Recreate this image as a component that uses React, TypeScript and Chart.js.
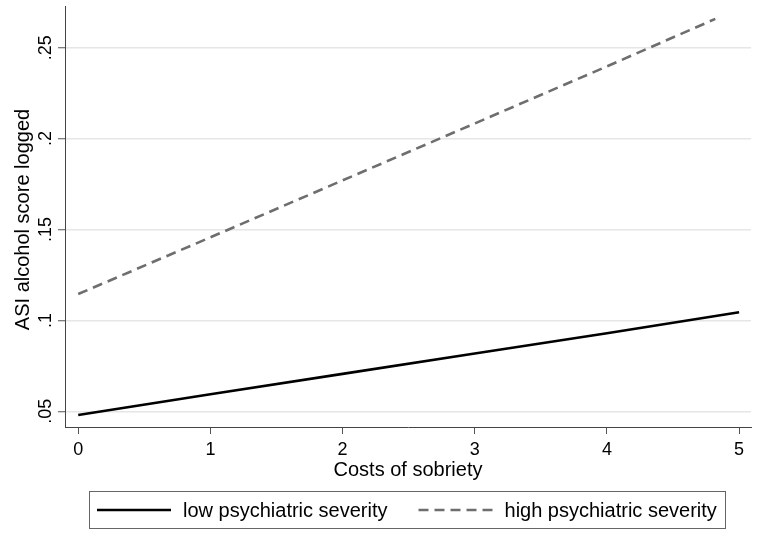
import React, { useEffect, useRef } from "react";
import { Chart, registerables } from "chart.js";

Chart.register(...registerables);

const X_TICKS = [0, 1, 2, 3, 4, 5];
const Y_TICKS = [0.05, 0.1, 0.15, 0.2, 0.25];
const LOW_X = [0, 1, 2, 3, 4, 5];
const LOW_Y = [0.048, 0.0594, 0.0706, 0.0818, 0.093, 0.1045];
const HIGH_X = [0, 1, 2, 3, 4, 4.82];
const HIGH_Y = [0.1145, 0.1457, 0.177, 0.2083, 0.2397, 0.2658];
const SERIES_LABELS = ["low psychiatric severity", "high psychiatric severity"];
const X_TITLE = "Costs of sobriety";
const Y_TITLE = "ASI alcohol score logged";

const FONT = "'Liberation Sans', Arial, Helvetica, sans-serif";

const fmtY = (v: number) => {
  const s = String(+v.toFixed(3));
  return s.startsWith("0.") ? s.slice(1) : s;
};

const textPlugin = {
  id: "stataText",
  afterDraw(chart: any) {
    const ctx = chart.ctx as CanvasRenderingContext2D;
    const { left, right, top, bottom } = chart.chartArea;
    const xs = chart.scales.x;
    const ys = chart.scales.y;
    ctx.save();
    ctx.fillStyle = "#000";

    // x tick labels
    ctx.font = `18px ${FONT}`;
    ctx.textAlign = "center";
    ctx.textBaseline = "alphabetic";
    xs.ticks.forEach((t: any) => {
      ctx.fillText(String(t.value), xs.getPixelForValue(t.value), bottom + 27.5);
    });

    // y tick labels (rotated)
    ys.ticks.forEach((t: any) => {
      ctx.save();
      ctx.translate(left - 14.5, ys.getPixelForValue(t.value));
      ctx.rotate(-Math.PI / 2);
      ctx.fillText(fmtY(t.value), 0, 0);
      ctx.restore();
    });

    // axis titles
    ctx.font = `20px ${FONT}`;
    ctx.fillText(X_TITLE, (left + right) / 2, bottom + 49);
    ctx.save();
    ctx.translate(left - 36, (top + bottom) / 2 + 3);
    ctx.rotate(-Math.PI / 2);
    ctx.fillText(Y_TITLE, 0, 0);
    ctx.restore();

    // legend box
    const bx = left + 24;
    const bw = right - 26 - bx;
    const by = bottom + 64;
    const bh = 37;
    ctx.strokeStyle = "#666";
    ctx.lineWidth = 1;
    ctx.strokeRect(bx + 0.5, by + 0.5, bw, bh);
    const cy = by + bh / 2 + 0.5;
    let x = bx + 8;
    ctx.textAlign = "left";
    ctx.textBaseline = "middle";
    chart.data.datasets.forEach((ds: any) => {
      ctx.save();
      ctx.strokeStyle = ds.borderColor;
      ctx.lineWidth = ds.borderWidth;
      ctx.setLineDash(ds.borderDash || []);
      ctx.beginPath();
      ctx.moveTo(x, cy);
      ctx.lineTo(x + 74, cy);
      ctx.stroke();
      ctx.restore();
      ctx.fillStyle = "#000";
      ctx.fillText(ds.label, x + 86, cy + 1);
      x += 86 + ctx.measureText(ds.label).width + 31;
    });
    ctx.restore();
  },
};

export default function App() {
  const ref = useRef<HTMLCanvasElement | null>(null);

  useEffect(() => {
    if (!ref.current) return;
    const chart = new Chart(ref.current, {
      type: "line",
      data: {
        datasets: [
          {
            label: SERIES_LABELS[0],
            data: LOW_X.map((x, i) => ({ x, y: LOW_Y[i] })),
            borderColor: "#000000",
            borderWidth: 2.6,
            pointRadius: 0,
            tension: 0,
            fill: false,
          },
          {
            label: SERIES_LABELS[1],
            data: HIGH_X.map((x, i) => ({ x, y: HIGH_Y[i] })),
            borderColor: "#6e6e6e",
            borderWidth: 2.6,
            borderDash: [10, 6],
            pointRadius: 0,
            tension: 0,
            fill: false,
          },
        ],
      },
      options: {
        responsive: false,
        animation: false,
        devicePixelRatio: 1,
        layout: { padding: { left: 58, right: 9, top: 6, bottom: 100 } },
        plugins: {
          legend: { display: false },
          tooltip: { enabled: false },
        },
        scales: {
          x: {
            type: "linear",
            min: -0.1,
            max: 5.09,
            afterBuildTicks: (s: any) => {
              s.ticks = X_TICKS.map((v) => ({ value: v }));
            },
            ticks: { display: false },
            grid: {
              drawOnChartArea: false,
              drawTicks: true,
              tickLength: 7,
              tickColor: "#555",
              tickWidth: 1,
            },
            border: { color: "#444", width: 1 },
          },
          y: {
            type: "linear",
            min: 0.0414,
            max: 0.2729,
            afterBuildTicks: (s: any) => {
              s.ticks = Y_TICKS.map((v) => ({ value: v }));
            },
            ticks: { display: false },
            grid: {
              color: "#e6e6e6",
              lineWidth: 1.5,
              drawTicks: true,
              tickLength: 7,
              tickColor: "#555",
              tickWidth: 1,
            },
            border: { color: "#444", width: 1 },
          },
        },
      },
      plugins: [textPlugin],
    } as any);
    return () => chart.destroy();
  }, []);

  return (
    <div style={{ position: "absolute", left: 0, top: 0, width: 760, height: 534, background: "#fff" }}>
      <canvas ref={ref} width={760} height={534} />
    </div>
  );
}
